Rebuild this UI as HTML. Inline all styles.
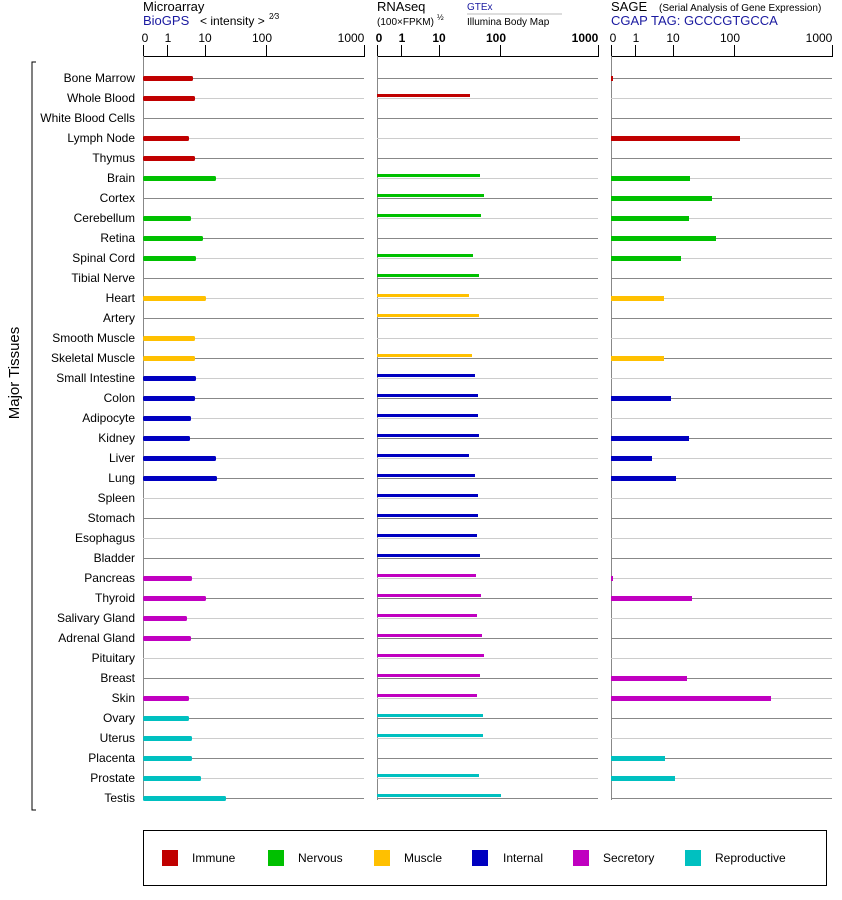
<!DOCTYPE html>
<html><head><meta charset="utf-8"><style>
body{margin:0;background:#fff;}
svg{display:block;font-family:"Liberation Sans",Arial,sans-serif;}
</style></head><body>
<svg id="s" width="842" height="900" xmlns="http://www.w3.org/2000/svg">
<g id="g"></g>
<text x="143" y="11" font-size="13">Microarray</text>
<text x="143" y="25" font-size="13" fill="#1a1aa0">BioGPS</text>
<text x="200" y="25" font-size="12">&lt; intensity &gt;</text>
<text x="269" y="19" font-size="8">2⁄3</text>
<text x="377" y="11" font-size="13">RNAseq</text>
<text x="377" y="25" font-size="10">(100×FPKM)</text>
<text x="437" y="20" font-size="8">½</text>
<text x="467" y="10" font-size="10" fill="#1a1aa0">GTEx</text>
<line x1="467" y1="14" x2="562" y2="14" stroke="#bbb"/>
<text x="467" y="25" font-size="10">Illumina Body Map</text>
<text x="611" y="11" font-size="13">SAGE</text>
<text x="659" y="11" font-size="10">(Serial Analysis of Gene Expression)</text>
<text x="611" y="25" font-size="13" fill="#1a1aa0">CGAP TAG: GCCCGTGCCA</text>
<g font-size="12" text-anchor="middle">
<text x="145" y="42">0</text><text x="168" y="42">1</text><text x="205" y="42">10</text><text x="262" y="42">100</text><text x="351" y="42">1000</text>
<text x="379" y="42" font-weight="bold">0</text><text x="402" y="42" font-weight="bold">1</text><text x="439" y="42" font-weight="bold">10</text><text x="496" y="42" font-weight="bold">100</text><text x="585" y="42" font-weight="bold">1000</text>
<text x="613" y="42">0</text><text x="636" y="42">1</text><text x="673" y="42">10</text><text x="730" y="42">100</text><text x="819" y="42">1000</text>
</g>
<g font-size="12" text-anchor="end">
<text x="135" y="82">Bone Marrow</text><text x="135" y="102">Whole Blood</text><text x="135" y="122">White Blood Cells</text><text x="135" y="142">Lymph Node</text><text x="135" y="162">Thymus</text><text x="135" y="182">Brain</text><text x="135" y="202">Cortex</text><text x="135" y="222">Cerebellum</text><text x="135" y="242">Retina</text><text x="135" y="262">Spinal Cord</text><text x="135" y="282">Tibial Nerve</text><text x="135" y="302">Heart</text><text x="135" y="322">Artery</text><text x="135" y="342">Smooth Muscle</text><text x="135" y="362">Skeletal Muscle</text><text x="135" y="382">Small Intestine</text><text x="135" y="402">Colon</text><text x="135" y="422">Adipocyte</text><text x="135" y="442">Kidney</text><text x="135" y="462">Liver</text><text x="135" y="482">Lung</text><text x="135" y="502">Spleen</text><text x="135" y="522">Stomach</text><text x="135" y="542">Esophagus</text><text x="135" y="562">Bladder</text><text x="135" y="582">Pancreas</text><text x="135" y="602">Thyroid</text><text x="135" y="622">Salivary Gland</text><text x="135" y="642">Adrenal Gland</text><text x="135" y="662">Pituitary</text><text x="135" y="682">Breast</text><text x="135" y="702">Skin</text><text x="135" y="722">Ovary</text><text x="135" y="742">Uterus</text><text x="135" y="762">Placenta</text><text x="135" y="782">Prostate</text><text x="135" y="802">Testis</text>
</g>
<path d="M36 62 H32 V810 H36" fill="none" stroke="#000"/>
<text transform="translate(19,373) rotate(-90)" font-size="15" text-anchor="middle">Major Tissues</text>
<rect x="143.5" y="830.5" width="683" height="55" fill="none" stroke="#000"/>
<g font-size="12">
<rect x="162" y="850" width="16" height="16" fill="#c00000"/><text x="192" y="862">Immune</text>
<rect x="268" y="850" width="16" height="16" fill="#00c000"/><text x="298" y="862">Nervous</text>
<rect x="374" y="850" width="16" height="16" fill="#ffc000"/><text x="404" y="862">Muscle</text>
<rect x="472" y="850" width="16" height="16" fill="#0000c0"/><text x="503" y="862">Internal</text>
<rect x="573" y="850" width="16" height="16" fill="#c000c0"/><text x="603" y="862">Secretory</text>
<rect x="685" y="850" width="16" height="16" fill="#00c0c0"/><text x="715" y="862">Reproductive</text>
</g>
</svg>
<script>
var g=document.getElementById('g'),h='';
var R='#c00000',G='#00c000',Y='#ffc000',B='#0000c0',M='#c000c0',C='#00c0c0';
var col=[R,R,R,R,R,G,G,G,G,G,G,Y,Y,Y,Y,B,B,B,B,B,B,B,B,B,B,M,M,M,M,M,M,M,C,C,C,C,C];
var ma=[193,195,0,189,195,216,0,191,203,196,0,206,0,195,195,196,195,191,190,216,217,0,0,0,0,192,206,187,191,0,0,189,189,192,192,201,226];
var rn=[0,470,0,0,0,480,484,481,0,473,479,469,479,0,472,475,478,478,479,469,475,478,478,477,480,476,481,477,482,484,480,477,483,483,0,479,501];
var sg=[613,0,0,740,0,690,712,689,716,681,0,664,0,0,664,0,671,0,689,652,676,0,0,0,0,613,692,0,0,0,687,771,0,0,665,675,0];
var P=[[143,364,ma],[377,598,rn],[611,832,sg]];
P.forEach(function(p,k){
 var x0=p[0],x1=p[1];
 h+='<line x1="'+x0+'" y1="56.5" x2="'+x1+'" y2="56.5" stroke="#000"/>';
 var tk=[0,24,62,123,221];
 tk.forEach(function(t){h+='<line x1="'+(x0+t+.5)+'" y1="45" x2="'+(x0+t+.5)+'" y2="57" stroke="#000"/>';});
 h+='<line x1="'+(x0+.5)+'" y1="56" x2="'+(x0+.5)+'" y2="800" stroke="#888"/>';
 for(var i=0;i<37;i++){
  var y=78+20*i;
  h+='<line x1="'+x0+'" y1="'+(y+.5)+'" x2="'+x1+'" y2="'+(y+.5)+'" stroke="'+(i%2?'#ccc':'#888')+'"/>';
  var e=p[2][i];
  if(e){
   if(k==1) h+='<rect x="'+x0+'" y="'+(y-4)+'" width="'+(e-x0)+'" height="3" fill="'+col[i]+'"/>';
   else if(k==0) h+='<rect x="'+x0+'" y="'+(y-2)+'" width="'+(e-x0)+'" height="5" rx="1.5" fill="'+col[i]+'"/>';
   else h+='<rect x="'+x0+'" y="'+(y-2)+'" width="'+Math.max(2,e-x0)+'" height="5" fill="'+col[i]+'"/>';
  }
 }
});
g.innerHTML=h;
</script>
</body></html>
